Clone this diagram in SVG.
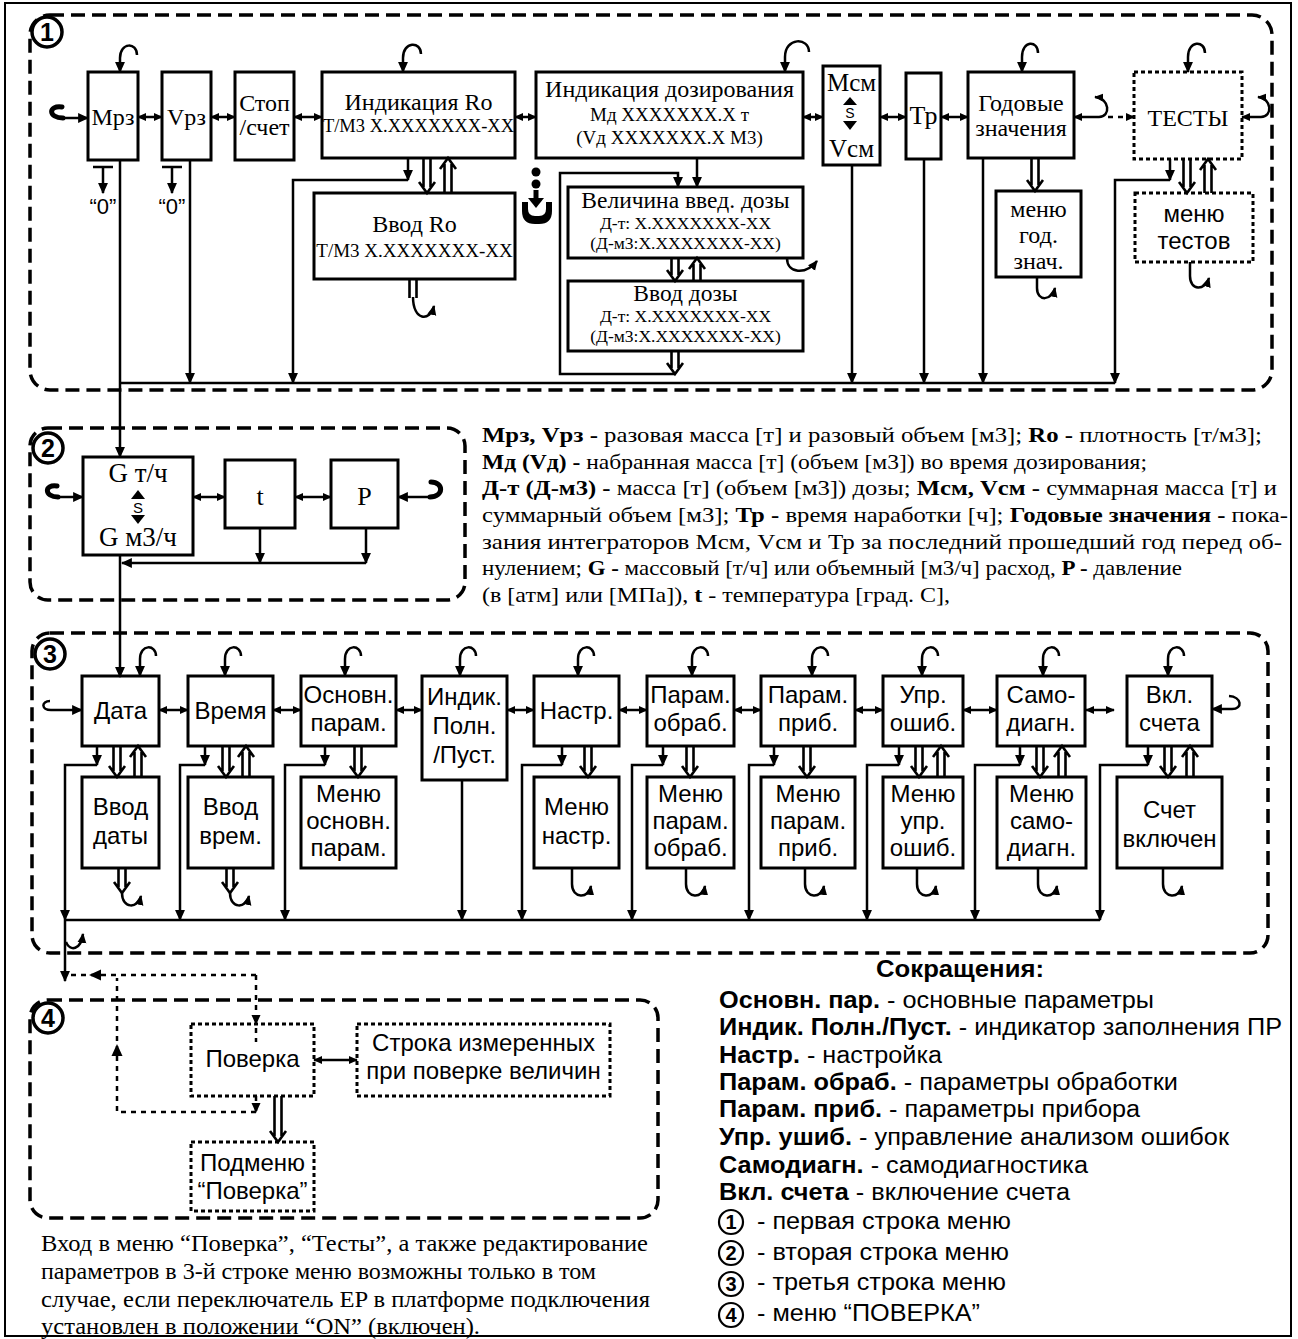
<svg xmlns="http://www.w3.org/2000/svg" width="1298" height="1339" viewBox="0 0 1298 1339">
<defs>
<marker id="ah" viewBox="0 0 10 10" refX="9" refY="5" markerWidth="11" markerHeight="11" markerUnits="userSpaceOnUse" orient="auto-start-reverse"><path d="M0,0.5 L10,5 L0,9.5 z"/></marker>
<marker id="am" viewBox="0 0 10 10" refX="9" refY="5" markerWidth="9" markerHeight="9" markerUnits="userSpaceOnUse" orient="auto-start-reverse"><path d="M0,0.5 L10,5 L0,9.5 z"/></marker>
<marker id="as" viewBox="0 0 10 10" refX="9" refY="5" markerWidth="10" markerHeight="10" markerUnits="userSpaceOnUse" orient="auto-start-reverse"><path d="M0,0.5 L10,5 L0,9.5 z"/></marker>
</defs>
<style>
.box{fill:#fff;stroke:#000;stroke-width:3}
.dbox{fill:#fff;stroke:#000;stroke-width:3;stroke-dasharray:4,3}
.sec{fill:none;stroke:#000;stroke-width:3.5;stroke-dasharray:14,7}
.ln{fill:none;stroke:#000;stroke-width:2.5}
.th{fill:none;stroke:#000;stroke-width:5;stroke-linecap:round}
.dl{fill:none;stroke:#000;stroke-width:2.5;stroke-dasharray:5,5}
.dbl{fill:none;stroke:#000;stroke-width:2.6}
.cir{fill:#fff;stroke:#000;stroke-width:3.5}
.lcir{fill:#fff;stroke:#000;stroke-width:2.2}
.se{font-family:"Liberation Serif","Times New Roman",serif;fill:#000}
.sa{font-family:"Liberation Sans",Arial,sans-serif;fill:#000}
.m{text-anchor:middle}
.b{font-weight:bold}
</style>
<rect x="5" y="3" width="1286" height="1333" fill="#fff" stroke="#000" stroke-width="2"/>

<!-- section frames -->
<g id="sections">
<rect class="sec" x="30" y="15" width="1242" height="375" rx="20"/>
<rect class="sec" x="30" y="428" width="435" height="172" rx="18"/>
<rect class="sec" x="32" y="633" width="1236" height="320" rx="18"/>
<rect class="sec" x="30" y="1000" width="628" height="218" rx="18"/>
<circle class="cir" cx="47" cy="32" r="15"/><text class="sa b m" x="47" y="41" font-size="25">1</text>
<circle class="cir" cx="48" cy="448" r="15"/><text class="sa b m" x="48" y="457" font-size="25">2</text>
<circle class="cir" cx="50" cy="654" r="15"/><text class="sa b m" x="50" y="663" font-size="25">3</text>
<circle class="cir" cx="48" cy="1018" r="15"/><text class="sa b m" x="48" y="1027" font-size="25">4</text>
</g>

<!-- section 1 nodes -->
<g id="n-mrz"><rect class="box" x="88" y="72" width="50" height="88"/><text class="se m" x="113" y="125" font-size="24">Мрз</text></g>
<g id="n-vrz"><rect class="box" x="162" y="72" width="49" height="88"/><text class="se m" x="186.5" y="125" font-size="24">Vрз</text></g>
<g id="n-stop"><rect class="box" x="235" y="72" width="59" height="88"/><text class="se m" x="264.5" y="111" font-size="24">Стоп</text><text class="se m" x="264.5" y="135" font-size="24">/счет</text></g>
<g id="n-indro"><rect class="box" x="322" y="72" width="193" height="86"/><text class="se m" x="418.5" y="110" font-size="24">Индикация Ro</text><text class="se m" x="418.5" y="132" font-size="18.5">Т/М3 X.XXXXXXX-XX</text></g>
<g id="n-inddoz"><rect class="box" x="536" y="72" width="267" height="86"/><text class="se m" x="669.5" y="97" font-size="24">Индикация дозирования</text><text class="se m" x="669.5" y="121" font-size="19">Мд XXXXXXX.X т</text><text class="se m" x="669.5" y="144" font-size="19">(Vд XXXXXXX.X М3)</text></g>
<g id="n-vvodro"><rect class="box" x="314" y="193" width="201" height="86"/><text class="se m" x="414.5" y="232" font-size="24">Ввод Ro</text><text class="se m" x="414.5" y="257" font-size="19">Т/М3 X.XXXXXXX-XX</text></g>
<g id="n-vel"><rect class="box" x="568" y="187" width="235" height="71"/><text class="se m" x="685.5" y="208" font-size="23.5">Величина введ. дозы</text><text class="se m" x="685.5" y="229" font-size="17.5">Д-т: X.XXXXXXX-XX</text><text class="se m" x="685.5" y="249" font-size="17.5">(Д-м3:X.XXXXXXX-XX)</text></g>
<g id="n-vvoddoz"><rect class="box" x="568" y="281" width="235" height="70"/><text class="se m" x="685.5" y="301" font-size="23.5">Ввод дозы</text><text class="se m" x="685.5" y="322" font-size="17.5">Д-т: X.XXXXXXX-XX</text><text class="se m" x="685.5" y="342" font-size="17.5">(Д-м3:X.XXXXXXX-XX)</text></g>
<g id="n-msm"><rect class="box" x="823" y="66" width="57" height="99"/><text class="se m" x="851.5" y="91" font-size="25">Мсм</text><polygon points="843,105 850,97 857,105"/><text class="sa m" x="850" y="118" font-size="14">S</text><polygon points="843,121 850,130 857,121"/><text class="se m" x="851.5" y="157" font-size="25">Vсм</text></g>
<g id="n-tr"><rect class="box" x="906" y="73" width="35" height="86"/><text class="se m" x="923.5" y="124" font-size="26">Тр</text></g>
<g id="n-god"><rect class="box" x="968" y="72" width="106" height="86"/><text class="se m" x="1021" y="111" font-size="24">Годовые</text><text class="se m" x="1021" y="136" font-size="24">значения</text></g>
<g id="n-tests"><rect class="dbox" x="1134" y="72" width="108" height="87"/><text class="se m" x="1188" y="126" font-size="24">ТЕСТЫ</text></g>
<g id="n-godmenu"><rect class="box" x="996" y="191" width="85" height="86"/><text class="se m" x="1038.5" y="217" font-size="24">меню</text><text class="se m" x="1038.5" y="243" font-size="24">год.</text><text class="se m" x="1038.5" y="269" font-size="24">знач.</text></g>
<g id="n-testmenu"><rect class="dbox" x="1135" y="193" width="118" height="69"/><text class="sa m" x="1194" y="222" font-size="24">меню</text><text class="sa m" x="1194" y="249" font-size="24">тестов</text></g>
<g id="n-zero1"><text class="sa m" x="103" y="214" font-size="22">“0”</text></g>
<g id="n-zero2"><text class="sa m" x="172" y="214" font-size="22">“0”</text></g>
<g id="n-info"><circle cx="536" cy="172" r="4.5"/><circle cx="536" cy="184" r="4.5"/><path d="M536,190 V200" stroke="#000" stroke-width="5"/><polygon points="528,198 544,198 536,208"/><path d="M522,202 H528 V209 Q528,216 535,216 H539 Q546,216 546,209 V202 H552 V211 Q552,224 539,224 H535 Q522,224 522,211 Z"/></g>

<!-- section 2 nodes -->
<g id="n-g"><rect class="box" x="83" y="457" width="110" height="98"/><text class="se m" x="138" y="482" font-size="27">G т/ч</text><polygon points="131,499 138,490 145,499"/><text class="sa m" x="138" y="513" font-size="15">S</text><polygon points="131,515 138,524 145,515"/><text class="se m" x="138" y="546" font-size="27">G м3/ч</text></g>
<g id="n-t"><rect class="box" x="225" y="460" width="70" height="68"/><text class="se m" x="260" y="505" font-size="26">t</text></g>
<g id="n-p"><rect class="box" x="331" y="460" width="67" height="68"/><text class="se m" x="364.5" y="505" font-size="26">P</text></g>

<!-- section 3 nodes -->
<g id="n-data"><rect class="box" x="82" y="676" width="77" height="70"/><text class="sa m" x="120.5" y="719" font-size="24">Дата</text></g>
<g id="n-vremya"><rect class="box" x="188" y="676" width="85" height="70"/><text class="sa m" x="230.5" y="719" font-size="24">Время</text></g>
<g id="n-osn"><rect class="box" x="301" y="676" width="95" height="70"/><text class="sa m" x="348.5" y="703" font-size="24">Основн.</text><text class="sa m" x="348.5" y="731" font-size="24">парам.</text></g>
<g id="n-indik"><rect class="box" x="422" y="676" width="85" height="104"/><text class="sa m" x="464.5" y="705" font-size="24">Индик.</text><text class="sa m" x="464.5" y="734" font-size="24">Полн.</text><text class="sa m" x="464.5" y="763" font-size="24">/Пуст.</text></g>
<g id="n-nastr"><rect class="box" x="534" y="676" width="85" height="70"/><text class="sa m" x="576.5" y="719" font-size="24">Настр.</text></g>
<g id="n-parobr"><rect class="box" x="647" y="676" width="87" height="70"/><text class="sa m" x="690.5" y="703" font-size="24">Парам.</text><text class="sa m" x="690.5" y="731" font-size="24">обраб.</text></g>
<g id="n-parprib"><rect class="box" x="761" y="676" width="94" height="70"/><text class="sa m" x="808" y="703" font-size="24">Парам.</text><text class="sa m" x="808" y="731" font-size="24">приб.</text></g>
<g id="n-upr"><rect class="box" x="883" y="676" width="80" height="70"/><text class="sa m" x="923" y="703" font-size="24">Упр.</text><text class="sa m" x="923" y="731" font-size="24">ошиб.</text></g>
<g id="n-samo"><rect class="box" x="997" y="676" width="88" height="70"/><text class="sa m" x="1041" y="703" font-size="24">Само-</text><text class="sa m" x="1041" y="731" font-size="24">диагн.</text></g>
<g id="n-vkl"><rect class="box" x="1127" y="676" width="85" height="70"/><text class="sa m" x="1169.5" y="703" font-size="24">Вкл.</text><text class="sa m" x="1169.5" y="731" font-size="24">счета</text></g>
<g id="n-vvoddat"><rect class="box" x="82" y="777" width="77" height="91"/><text class="sa m" x="120.5" y="815" font-size="24">Ввод</text><text class="sa m" x="120.5" y="844" font-size="24">даты</text></g>
<g id="n-vvodvr"><rect class="box" x="188" y="777" width="85" height="91"/><text class="sa m" x="230.5" y="815" font-size="24">Ввод</text><text class="sa m" x="230.5" y="844" font-size="24">врем.</text></g>
<g id="n-mosn"><rect class="box" x="301" y="777" width="95" height="91"/><text class="sa m" x="348.5" y="802" font-size="24">Меню</text><text class="sa m" x="348.5" y="829" font-size="24">основн.</text><text class="sa m" x="348.5" y="856" font-size="24">парам.</text></g>
<g id="n-mnastr"><rect class="box" x="534" y="777" width="85" height="91"/><text class="sa m" x="576.5" y="815" font-size="24">Меню</text><text class="sa m" x="576.5" y="844" font-size="24">настр.</text></g>
<g id="n-mparobr"><rect class="box" x="647" y="777" width="87" height="91"/><text class="sa m" x="690.5" y="802" font-size="24">Меню</text><text class="sa m" x="690.5" y="829" font-size="24">парам.</text><text class="sa m" x="690.5" y="856" font-size="24">обраб.</text></g>
<g id="n-mparprib"><rect class="box" x="761" y="777" width="94" height="91"/><text class="sa m" x="808" y="802" font-size="24">Меню</text><text class="sa m" x="808" y="829" font-size="24">парам.</text><text class="sa m" x="808" y="856" font-size="24">приб.</text></g>
<g id="n-mupr"><rect class="box" x="883" y="777" width="80" height="91"/><text class="sa m" x="923" y="802" font-size="24">Меню</text><text class="sa m" x="923" y="829" font-size="24">упр.</text><text class="sa m" x="923" y="856" font-size="24">ошиб.</text></g>
<g id="n-msamo"><rect class="box" x="997" y="777" width="89" height="91"/><text class="sa m" x="1041.5" y="802" font-size="24">Меню</text><text class="sa m" x="1041.5" y="829" font-size="24">само-</text><text class="sa m" x="1041.5" y="856" font-size="24">диагн.</text></g>
<g id="n-schet"><rect class="box" x="1117" y="777" width="105" height="91"/><text class="sa m" x="1169.5" y="818" font-size="24">Счет</text><text class="sa m" x="1169.5" y="847" font-size="24">включен</text></g>

<!-- section 4 nodes -->
<g id="n-poverka"><rect class="dbox" x="191" y="1024" width="123" height="72"/><text class="sa m" x="252.5" y="1067" font-size="24">Поверка</text></g>
<g id="n-stroka"><rect class="dbox" x="357" y="1024" width="253" height="72"/><text class="sa m" x="483.5" y="1051" font-size="24">Строка измеренных</text><text class="sa m" x="483.5" y="1079" font-size="24">при поверке величин</text></g>
<g id="n-podmenu"><rect class="dbox" x="191" y="1142" width="123" height="69"/><text class="sa m" x="252.5" y="1171" font-size="24">Подменю</text><text class="sa m" x="252.5" y="1199" font-size="24">“Поверка”</text></g>

<!-- connectors -->
<g id="connectors">
<!-- section 1 -->
<path class="th" d="M62,107 C48,105 48,118 63,118"/>
<path class="ln" stroke-width="3" d="M63,118 H88" marker-end="url(#ah)"/>
<path class="ln" d="M137,55 C137,42 120,42 120,58 V72" marker-end="url(#ah)"/>
<path class="ln" d="M421,54 C421,41 403,41 403,58 V72" marker-end="url(#ah)"/>
<path class="ln" d="M809,52 C809,37 785,37 785,57 V72" marker-end="url(#ah)"/>
<path class="ln" d="M1038,53 C1038,40 1022,40 1022,57 V72" marker-end="url(#ah)"/>
<path class="ln" d="M1205,53 C1205,40 1188,40 1188,57 V72" marker-end="url(#ah)"/>
<path class="ln" stroke-width="3" d="M138,117H162" marker-start="url(#am)" marker-end="url(#am)"/>
<path class="ln" stroke-width="3" d="M211,117H235" marker-start="url(#am)" marker-end="url(#am)"/>
<path class="ln" stroke-width="3" d="M294,117H322" marker-start="url(#am)" marker-end="url(#am)"/>
<path class="ln" stroke-width="3" d="M515,117H536" marker-start="url(#am)" marker-end="url(#am)"/>
<path class="ln" stroke-width="3" d="M803,117H823" marker-start="url(#am)" marker-end="url(#am)"/>
<path class="ln" stroke-width="3" d="M880,117H906" marker-start="url(#am)" marker-end="url(#am)"/>
<path class="ln" stroke-width="3" d="M941,117H968" marker-start="url(#am)" marker-end="url(#am)"/>
<path class="ln" stroke-width="3" d="M1074,117 H1099 C1111,117 1110,98 1095,97" marker-start="url(#am)" marker-end="url(#am)"/>
<path class="dl" d="M1108,117 H1134" marker-end="url(#am)"/>
<path class="ln" stroke-width="3" d="M1242,117 H1261 C1273,117 1272,98 1258,97" marker-start="url(#am)" marker-end="url(#am)"/>
<path class="ln" stroke-width="3" d="M93,167 H113 M103,167 V193" marker-end="url(#ah)"/>
<path class="ln" stroke-width="3" d="M162,167 H182 M172,167 V193" marker-end="url(#ah)"/>
<path class="ln" d="M120,160 V457" marker-end="url(#ah)"/>
<path class="ln" d="M120,383 H1115"/>
<path class="ln" d="M190,160 V383" marker-end="url(#ah)"/>
<path class="ln" d="M408,158 V180" marker-end="url(#ah)"/>
<path class="ln" d="M408,180 H293 V383" marker-end="url(#ah)"/>
<path class="ln" d="M697,158 V187" marker-end="url(#ah)"/>
<path class="ln" d="M675,374 H560 V173 H678 V187" marker-end="url(#ah)"/>
<path class="ln" d="M852,165 V383" marker-end="url(#ah)"/>
<path class="ln" d="M924,159 V383" marker-end="url(#ah)"/>
<path class="ln" d="M983,158 V383" marker-end="url(#ah)"/>
<path class="ln" d="M1170,159 V180" marker-end="url(#ah)"/>
<path class="ln" d="M1170,180 H1115 V383" marker-end="url(#ah)"/>
<path class="dbl" d="M423.5,158V187M430.5,158V187M419,182L427,193L435,182"/>
<path class="dbl" d="M444.5,193V164M451.5,193V164M440,169L448,158L456,169"/>
<path class="dbl" d="M671.5,258V275M678.5,258V275M667,270L675,281L683,270"/>
<path class="dbl" d="M693.5,281V264M700.5,281V264M689,269L697,258L705,269"/>
<path class="dbl" d="M671.5,351V368M678.5,351V368M667,363L675,374L683,363"/>
<path class="dbl" d="M1031.5,158V185M1038.5,158V185M1027,180L1035,191L1043,180"/>
<path class="dbl" d="M1183.5,159V187M1190.5,159V187M1179,182L1187,193L1195,182"/>
<path class="dbl" d="M1204.5,193V165M1211.5,193V165M1200,170L1208,159L1216,170"/>
<path class="dbl" d="M409.5,279V298M416.5,279V298"/>
<path class="ln" d="M413,297 C413,321 430,322 434,306" marker-end="url(#as)"/>
<path class="ln" d="M787,258 C787,274 806,275 817,261" marker-end="url(#as)"/>
<path class="ln" d="M1037,277 V288 C1037,302 1052,301 1055,288" marker-end="url(#as)"/>
<path class="ln" d="M1190,262 V276 C1190,291 1205,291 1209,278" marker-end="url(#as)"/>
<!-- section 2 -->
<path class="th" d="M57,486 C44,484 44,497 58,497"/>
<path class="ln" stroke-width="3" d="M58,497 H83" marker-end="url(#ah)"/>
<path class="ln" stroke-width="3" d="M193,497 H225" marker-start="url(#am)" marker-end="url(#am)"/>
<path class="ln" stroke-width="3" d="M295,497 H331" marker-start="url(#am)" marker-end="url(#am)"/>
<path class="ln" stroke-width="3" d="M398,497 H430" marker-start="url(#ah)"/>
<path class="th" d="M430,497 C444,497 444,482 431,482"/>
<path class="ln" d="M260,528 V563" marker-end="url(#ah)"/>
<path class="ln" d="M366,528 V563" marker-end="url(#ah)"/>
<path class="ln" d="M366,563 H122" marker-end="url(#ah)"/>
<path class="ln" d="M120,555 V677" marker-end="url(#ah)"/>
<!-- section 3 -->
<path class="ln" d="M50,701 C41,701 41,710 51,710 H82" marker-end="url(#ah)"/>
<path class="ln" d="M156,656 C156,644 140,644 140,659 V676" marker-end="url(#ah)"/>
<path class="ln" d="M241,656 C241,644 225,644 225,659 V676" marker-end="url(#ah)"/>
<path class="ln" d="M361,656 C361,644 345,644 345,659 V676" marker-end="url(#ah)"/>
<path class="ln" d="M476,656 C476,644 460,644 460,659 V676" marker-end="url(#ah)"/>
<path class="ln" d="M594,656 C594,644 578,644 578,659 V676" marker-end="url(#ah)"/>
<path class="ln" d="M708,656 C708,644 692,644 692,659 V676" marker-end="url(#ah)"/>
<path class="ln" d="M828,656 C828,644 812,644 812,659 V676" marker-end="url(#ah)"/>
<path class="ln" d="M938,656 C938,644 922,644 922,659 V676" marker-end="url(#ah)"/>
<path class="ln" d="M1059,656 C1059,644 1043,644 1043,659 V676" marker-end="url(#ah)"/>
<path class="ln" d="M1184,656 C1184,644 1168,644 1168,659 V676" marker-end="url(#ah)"/>
<path class="ln" d="M159,710H188" marker-start="url(#am)" marker-end="url(#am)"/>
<path class="ln" d="M273,710H301" marker-start="url(#am)" marker-end="url(#am)"/>
<path class="ln" d="M396,710H422" marker-start="url(#am)" marker-end="url(#am)"/>
<path class="ln" d="M507,710H534" marker-start="url(#am)" marker-end="url(#am)"/>
<path class="ln" d="M619,710H647" marker-start="url(#am)" marker-end="url(#am)"/>
<path class="ln" d="M734,710H761" marker-start="url(#am)" marker-end="url(#am)"/>
<path class="ln" d="M855,710H883" marker-start="url(#am)" marker-end="url(#am)"/>
<path class="ln" d="M963,710H997" marker-start="url(#am)" marker-end="url(#am)"/>
<path class="ln" d="M1086,710H1114" marker-start="url(#am)" marker-end="url(#am)"/>
<path class="ln" d="M1212,709 H1232 C1243,709 1242,697 1229,696" marker-start="url(#ah)"/>
<path class="ln" d="M97,746 V765" marker-end="url(#ah)"/>
<path class="ln" d="M97,765 H65 V920" marker-end="url(#ah)"/>
<path class="ln" d="M65,920 V981" marker-end="url(#ah)"/>
<path class="ln" d="M205,746 V765" marker-end="url(#ah)"/>
<path class="ln" d="M205,765 H180 V920" marker-end="url(#ah)"/>
<path class="ln" d="M325,746 V765" marker-end="url(#ah)"/>
<path class="ln" d="M325,765 H285 V920" marker-end="url(#ah)"/>
<path class="ln" d="M462,780 V920" marker-end="url(#ah)"/>
<path class="ln" d="M562,746 V765" marker-end="url(#ah)"/>
<path class="ln" d="M562,765 H522 V920" marker-end="url(#ah)"/>
<path class="ln" d="M663,746 V765" marker-end="url(#ah)"/>
<path class="ln" d="M663,765 H632 V920" marker-end="url(#ah)"/>
<path class="ln" d="M774,746 V765" marker-end="url(#ah)"/>
<path class="ln" d="M774,765 H749 V920" marker-end="url(#ah)"/>
<path class="ln" d="M899,746 V765" marker-end="url(#ah)"/>
<path class="ln" d="M899,765 H867 V920" marker-end="url(#ah)"/>
<path class="ln" d="M1020,746 V765" marker-end="url(#ah)"/>
<path class="ln" d="M1020,765 H975 V920" marker-end="url(#ah)"/>
<path class="ln" d="M1148,746 V765" marker-end="url(#ah)"/>
<path class="ln" d="M1148,765 H1100 V920" marker-end="url(#ah)"/>
<path class="ln" d="M65,920 H1100"/>
<path class="ln" d="M66,942 C70,952 81,950 83,934" marker-end="url(#as)"/>
<path class="dbl" d="M113.5,746V771M120.5,746V771M109,766L117,777L125,766"/>
<path class="dbl" d="M134.5,777V752M141.5,777V752M130,757L138,746L146,757"/>
<path class="dbl" d="M222.5,746V771M229.5,746V771M218,766L226,777L234,766"/>
<path class="dbl" d="M242.5,777V752M249.5,777V752M238,757L246,746L254,757"/>
<path class="dbl" d="M354.5,746V771M361.5,746V771M350,766L358,777L366,766"/>
<path class="dbl" d="M584.5,746V771M591.5,746V771M580,766L588,777L596,766"/>
<path class="dbl" d="M686.5,746V771M693.5,746V771M682,766L690,777L698,766"/>
<path class="dbl" d="M803.5,746V771M810.5,746V771M799,766L807,777L815,766"/>
<path class="dbl" d="M915.5,746V771M922.5,746V771M911,766L919,777L927,766"/>
<path class="dbl" d="M937.5,777V752M944.5,777V752M933,757L941,746L949,757"/>
<path class="dbl" d="M1036.5,746V771M1043.5,746V771M1032,766L1040,777L1048,766"/>
<path class="dbl" d="M1058.5,777V752M1065.5,777V752M1054,757L1062,746L1070,757"/>
<path class="dbl" d="M1164.5,746V771M1171.5,746V771M1160,766L1168,777L1176,766"/>
<path class="dbl" d="M1186.5,777V752M1193.5,777V752M1182,757L1190,746L1198,757"/>
<path class="dbl" d="M118.5,868V887M125.5,868V887M114,882L122,893L130,882"/>
<path class="ln" d="M122,893 C122,909 138,909 141,896" marker-end="url(#as)"/>
<path class="dbl" d="M226.5,868V887M233.5,868V887M222,882L230,893L238,882"/>
<path class="ln" d="M230,893 C230,909 246,909 249,896" marker-end="url(#as)"/>
<path class="ln" d="M572,868 V884 C572,899 589,899 591,886" marker-end="url(#as)"/>
<path class="ln" d="M686,868 V884 C686,899 703,899 705,886" marker-end="url(#as)"/>
<path class="ln" d="M805,868 V884 C805,899 822,899 824,886" marker-end="url(#as)"/>
<path class="ln" d="M917,868 V884 C917,899 934,899 936,886" marker-end="url(#as)"/>
<path class="ln" d="M1038,868 V884 C1038,899 1055,899 1057,886" marker-end="url(#as)"/>
<path class="ln" d="M1163,868 V884 C1163,899 1180,899 1182,886" marker-end="url(#as)"/>
<!-- section 4 -->
<path class="dl" d="M256,975 H70"/>
<polygon points="89,975 101,969.5 101,980.5"/>
<path class="dl" d="M256,975 V1024" marker-end="url(#as)"/>
<path class="dl" d="M256,1028 V1042"/>
<path class="dl" d="M256,1096 V1112" marker-end="url(#as)"/>
<path class="dl" d="M256,1112 H117 V978"/>
<polygon points="117,1044 111.5,1056 122.5,1056"/>
<path class="dbl" d="M274.5,1096V1136M281.5,1096V1136M270,1131L278,1142L286,1131"/>
<path class="ln" stroke-width="1.8" d="M314,1060 H357" marker-start="url(#am)" marker-end="url(#am)"/>
</g>

<!-- explanation text -->
<g id="notes" class="se" font-size="22">
<text x="482" y="442" textLength="780" lengthAdjust="spacingAndGlyphs"><tspan class="b">Мрз, Vрз -</tspan> разовая масса [т] и разовый  объем [м3]; <tspan class="b">Ro -</tspan> плотность [т/м3];</text>
<text x="482" y="469" textLength="665" lengthAdjust="spacingAndGlyphs"><tspan class="b">Мд (Vд) -</tspan> набранная масса [т] (объем [м3]) во время дозирования;</text>
<text x="482" y="495" textLength="795" lengthAdjust="spacingAndGlyphs"><tspan class="b">Д-т (Д-м3) -</tspan> масса [т] (объем [м3]) дозы; <tspan class="b">Мсм, Vсм -</tspan> суммарная масса [т] и</text>
<text x="482" y="522" textLength="806" lengthAdjust="spacingAndGlyphs">суммарный объем [м3]; <tspan class="b">Тр -</tspan> время наработки [ч]; <tspan class="b">Годовые значения -</tspan> пока-</text>
<text x="482" y="549" textLength="800" lengthAdjust="spacingAndGlyphs">зания интеграторов Мсм, Vсм и Тр за последний прошедший год перед об-</text>
<text x="482" y="575" textLength="700" lengthAdjust="spacingAndGlyphs">нулением; <tspan class="b">G -</tspan> массовый [т/ч] или объемный [м3/ч] расход, <tspan class="b">P -</tspan> давление</text>
<text x="482" y="602" textLength="468" lengthAdjust="spacingAndGlyphs">(в [атм] или [МПа]), <tspan class="b">t</tspan>  - температура [град. С],</text>
</g>
<g id="footnote" class="se" font-size="23">
<text x="41" y="1251" textLength="607" lengthAdjust="spacingAndGlyphs">Вход в меню “Поверка”, “Тесты”, а также редактирование</text>
<text x="41" y="1279" textLength="555" lengthAdjust="spacingAndGlyphs">параметров в 3-й строке меню возможны только в том</text>
<text x="41" y="1307" textLength="609" lengthAdjust="spacingAndGlyphs">случае, если переключатель EP в платформе подключения</text>
<text x="41" y="1334" textLength="439" lengthAdjust="spacingAndGlyphs">установлен в положении “ON” (включен).</text>
</g>
<g id="legend" class="sa" font-size="23">
<text class="b m" x="960" y="977" textLength="168" lengthAdjust="spacingAndGlyphs">Сокращения:</text>
<text x="719" y="1008" textLength="435" lengthAdjust="spacingAndGlyphs"><tspan class="b">Основн. пар.</tspan> - основные параметры</text>
<text x="719" y="1035" textLength="563" lengthAdjust="spacingAndGlyphs"><tspan class="b">Индик. Полн./Пуст.</tspan> - индикатор заполнения ПР</text>
<text x="719" y="1063" textLength="223" lengthAdjust="spacingAndGlyphs"><tspan class="b">Настр.</tspan> - настройка</text>
<text x="719" y="1090" textLength="459" lengthAdjust="spacingAndGlyphs"><tspan class="b">Парам. обраб.</tspan> - параметры обработки</text>
<text x="719" y="1117" textLength="421" lengthAdjust="spacingAndGlyphs"><tspan class="b">Парам. приб.</tspan> - параметры прибора</text>
<text x="719" y="1145" textLength="510" lengthAdjust="spacingAndGlyphs"><tspan class="b">Упр. ушиб.</tspan> - управление анализом ошибок</text>
<text x="719" y="1173" textLength="369" lengthAdjust="spacingAndGlyphs"><tspan class="b">Самодиагн.</tspan> - самодиагностика</text>
<text x="719" y="1200" textLength="351" lengthAdjust="spacingAndGlyphs"><tspan class="b">Вкл. счета</tspan> - включение счета</text>
<circle class="lcir" cx="731" cy="1222" r="12"/><text class="b m" x="731" y="1229" font-size="20">1</text>
<text x="757" y="1229" textLength="254" lengthAdjust="spacingAndGlyphs">- первая строка меню</text>
<circle class="lcir" cx="731" cy="1253" r="12"/><text class="b m" x="731" y="1260" font-size="20">2</text>
<text x="757" y="1260" textLength="252" lengthAdjust="spacingAndGlyphs">- вторая строка меню</text>
<circle class="lcir" cx="731" cy="1284" r="12"/><text class="b m" x="731" y="1291" font-size="20">3</text>
<text x="757" y="1290" textLength="249" lengthAdjust="spacingAndGlyphs">- третья строка меню</text>
<circle class="lcir" cx="731" cy="1315" r="12"/><text class="b m" x="731" y="1322" font-size="20">4</text>
<text x="757" y="1321" textLength="223" lengthAdjust="spacingAndGlyphs">- меню “ПОВЕРКА”</text>
</g>
</svg>
